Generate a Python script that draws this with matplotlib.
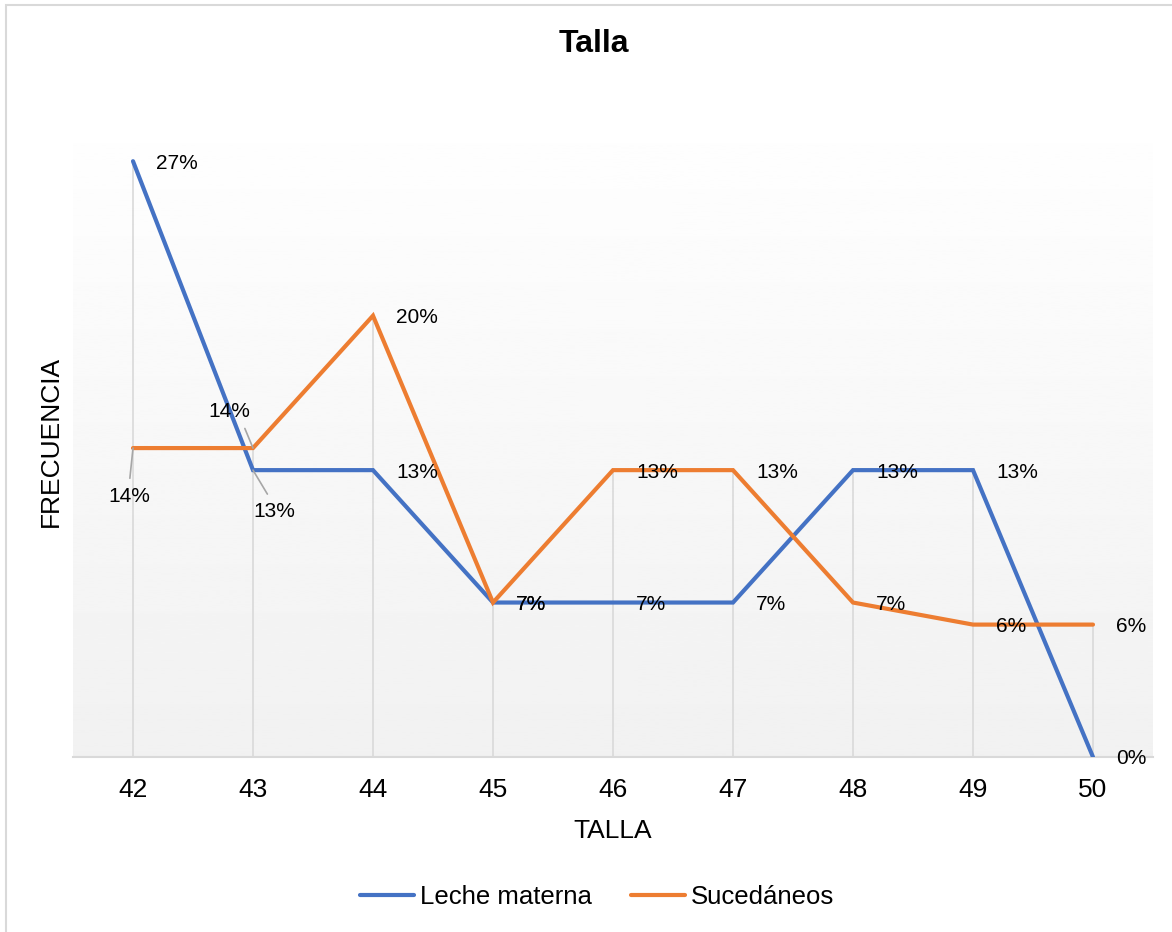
import numpy as np
import matplotlib.pyplot as plt
from matplotlib.patches import Rectangle

# Data
tallas = [42, 43, 44, 45, 46, 47, 48, 49, 50]
leche_materna = [27, 13, 13, 7, 7, 7, 13, 13, 0]
sucedaneos = [14, 14, 20, 7, 13, 13, 7, 6, 6]

plt.rcParams['font.family'] = ['Liberation Sans', 'DejaVu Sans']

fig = plt.figure(figsize=(11.72, 9.32), dpi=100)
ax = fig.add_axes([73 / 1172, 175 / 932, 1080 / 1172, 662 / 932])

x = np.arange(len(tallas))

# plot area gradient (white -> light gray)
grad = np.linspace(1.0, 0.945, 256).reshape(-1, 1)
ax.imshow(grad, cmap='gray', vmin=0, vmax=1, extent=[0, 1, 0, 1],
          transform=ax.transAxes, aspect='auto', zorder=0)

ax.set_xlim(-0.5, len(tallas) - 0.5)
ax.set_ylim(0, 30)

# drop lines
ax.vlines(x, 0, np.maximum(leche_materna, sucedaneos), color='#d9d9d9', lw=1.2, zorder=1)

ax.plot(x, leche_materna, color='#4472C4', lw=3, label='Leche materna',
        solid_capstyle='round', solid_joinstyle='miter', zorder=3)
ax.plot(x, sucedaneos, color='#ED7D31', lw=3, label='Sucedáneos',
        solid_capstyle='round', solid_joinstyle='miter', zorder=4)

for s in ['top', 'right', 'left']:
    ax.spines[s].set_visible(False)
ax.spines['bottom'].set_color('#d9d9d9')
ax.spines['bottom'].set_linewidth(1.5)

ax.set_xticks(x, [str(t) for t in tallas])
ax.set_yticks([])
ax.tick_params(axis='x', length=0, pad=15, labelsize=19)

ax.set_xlabel('TALLA', fontsize=19)
ax.xaxis.set_label_coords(0.5, -0.093)
ax.set_ylabel('FRECUENCIA', fontsize=19)
ax.yaxis.set_label_coords(-0.009, 0.476)

# data labels
leader = dict(arrowstyle='-', color='#a6a6a6', lw=1.2, shrinkB=0)
special = {
    ('s', 0): ((-4, -48), dict(leader, relpos=(0.5, 1), shrinkA=4)),
    ('s', 1): ((-24, 37), dict(leader, relpos=(0.8, 0), shrinkA=4)),
    ('l', 1): ((21, -41), dict(leader, relpos=(0.45, 1), shrinkA=4)),
}
for key, vals in [('l', leche_materna), ('s', sucedaneos)]:
    for i, v in enumerate(vals):
        if (key, i) in special:
            off, arrow = special[(key, i)]
            ax.annotate(f'{v}%', xy=(x[i], v), xytext=off, textcoords='offset pixels',
                        ha='center', va='center', fontsize=15, arrowprops=arrow, zorder=5)
        else:
            ax.annotate(f'{v}%', xy=(x[i], v), xytext=(23, -2), textcoords='offset pixels',
                        ha='left', va='center', fontsize=15, zorder=5)

fig.text(594 / 1172, 1 - 44 / 932, 'Talla', ha='center', va='center',
         fontsize=23, fontweight='bold')

fig.legend(loc='center', bbox_to_anchor=(597 / 1172, 1 - 897 / 932), ncol=2,
           frameon=False, fontsize=18.5, handlelength=2.1, handletextpad=0.25,
           columnspacing=1.5)

# chart border
fig.patches.append(Rectangle((5.5 / 1172, -0.01), 1.1, (932 - 4.5) / 932 + 0.01,
                             fill=False, edgecolor='#d9d9d9', lw=1.5,
                             transform=fig.transFigure))

fig.savefig('out.png', dpi=100)
